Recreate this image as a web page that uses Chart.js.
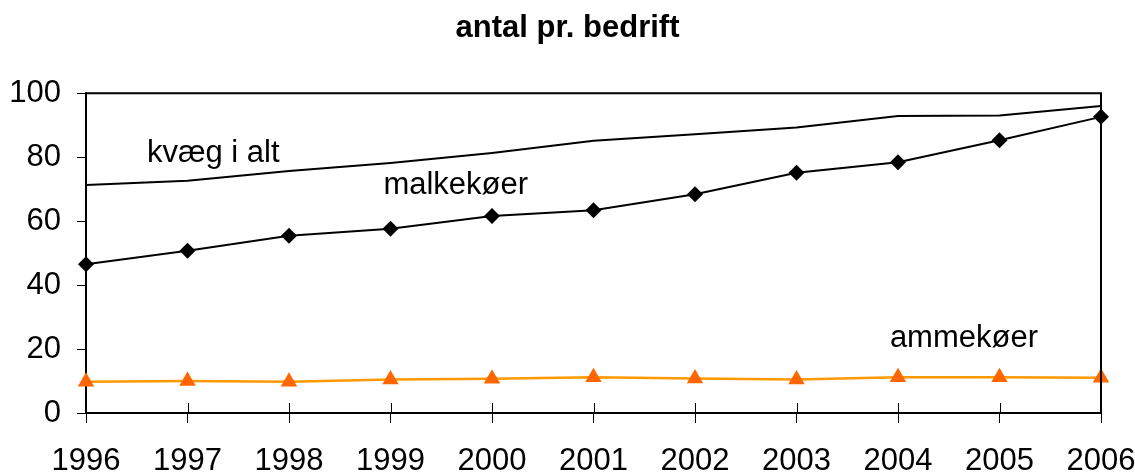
<!DOCTYPE html>
<html>
<head>
<meta charset="utf-8">
<script src="https://cdn.jsdelivr.net/npm/chart.js@4/dist/chart.umd.min.js"></script>
<style>
  html, body { margin: 0; padding: 0; background: #fff; }
  #wrap { width: 1135px; height: 473px; }
</style>
</head>
<body>
<div id="wrap"><canvas id="cattleChart"></canvas></div>
<script>
const years = ['1996', '1997', '1998', '1999', '2000', '2001', '2002', '2003', '2004', '2005', '2006'];
const kvaegIAlt = [71.3, 72.6, 75.7, 78.2, 81.3, 85.1, 87.2, 89.3, 92.9, 93.0, 96.0];
const malkekoer = [46.5, 50.7, 55.4, 57.6, 61.6, 63.4, 68.4, 75.1, 78.4, 85.3, 92.6];
const ammekoer = [9.8, 10.0, 9.8, 10.5, 10.7, 11.2, 10.8, 10.5, 11.2, 11.2, 11.0];
const yTicks = [0, 20, 40, 60, 80, 100];

// series names written inside the plot, anchored in data units (category index, value)
const seriesNotes = [
    { text: 'kvæg i alt', at: 0.6, value: 78.5 },
    { text: 'malkekøer', at: 2.93, value: 68.4 },
    { text: 'ammekøer', at: 7.92, value: 20.7 }
];

const FONT = '"Liberation Sans", Arial, sans-serif';

// box around the plot, inner half of the x tick marks, series names
const framePlugin = {
    id: 'frame',
    afterDraw(chart) {
        const { ctx, chartArea: a, scales } = chart;
        ctx.save();
        ctx.strokeStyle = '#000';
        ctx.lineWidth = 2;
        ctx.beginPath();
        ctx.moveTo(a.left, a.top);
        ctx.lineTo(a.right, a.top);
        ctx.lineTo(a.right, a.bottom);
        ctx.stroke();

        ctx.lineWidth = 1;
        ctx.beginPath();
        scales.x.ticks.forEach((t, i) => {
            const px = Math.round(scales.x.getPixelForTick(i)) + 0.5;
            ctx.moveTo(px, a.bottom);
            ctx.lineTo(px, a.bottom - 10);
        });
        ctx.stroke();

        ctx.fillStyle = '#000';
        ctx.font = '31px ' + FONT;
        ctx.textAlign = 'left';
        ctx.textBaseline = 'alphabetic';
        seriesNotes.forEach(n => {
            ctx.fillText(n.text, scales.x.getPixelForValue(n.at), scales.y.getPixelForValue(n.value));
        });
        ctx.restore();
    }
};

const ctx = document.getElementById('cattleChart').getContext('2d');
const cattleChart = new Chart(ctx, {
    type: 'line',
    data: {
        labels: years,
        datasets: [
            {
                label: 'kvæg i alt',
                data: kvaegIAlt,
                borderColor: '#000',
                borderWidth: 2,
                pointRadius: 0,
                tension: 0
            },
            {
                label: 'malkekøer',
                data: malkekoer,
                borderColor: '#000',
                borderWidth: 2,
                pointStyle: 'rectRot',
                pointRadius: 8,
                pointBackgroundColor: '#000',
                pointBorderColor: '#000',
                pointBorderWidth: 0,
                tension: 0
            },
            {
                label: 'ammekøer',
                data: ammekoer,
                borderColor: '#FF9900',
                borderWidth: 2.5,
                pointStyle: 'triangle',
                pointRadius: 9.5,
                pointBackgroundColor: '#FF6600',
                pointBorderColor: '#FF6600',
                pointBorderWidth: 0,
                tension: 0
            }
        ]
    },
    options: {
        responsive: true,
        maintainAspectRatio: false,
        animation: false,
        layout: { padding: 0 },
        plugins: {
            legend: { display: false },
            tooltip: { enabled: false },
            title: {
                display: true,
                text: 'antal pr. bedrift',
                color: '#000',
                font: { family: FONT, size: 31, weight: 'bold' },
                padding: { top: 10, bottom: 46 }
            }
        },
        scales: {
            x: {
                offset: false,
                grid: {
                    drawOnChartArea: false,
                    color: '#000',
                    tickLength: 10,
                    lineWidth: 1
                },
                border: { color: '#000', width: 2 },
                ticks: {
                    color: '#000',
                    maxRotation: 0,
                    autoSkip: false,
                    padding: 20,
                    font: { family: FONT, size: 31 }
                },
                afterFit(scale) {
                    scale.height = 60;
                    scale.paddingRight = 34;
                }
            },
            y: {
                min: 0,
                max: 100,
                grid: {
                    drawOnChartArea: false,
                    color: '#000',
                    tickLength: 9,
                    lineWidth: 1
                },
                border: { color: '#000', width: 2 },
                ticks: {
                    color: '#000',
                    stepSize: 20,
                    padding: 16,
                    font: { family: FONT, size: 31 }
                },
                afterBuildTicks(scale) { scale.ticks = yTicks.map(v => ({ value: v })); },
                afterFit(scale) { scale.width = 86; }
            }
        }
    },
    plugins: [framePlugin]
});
</script>
</body>
</html>
